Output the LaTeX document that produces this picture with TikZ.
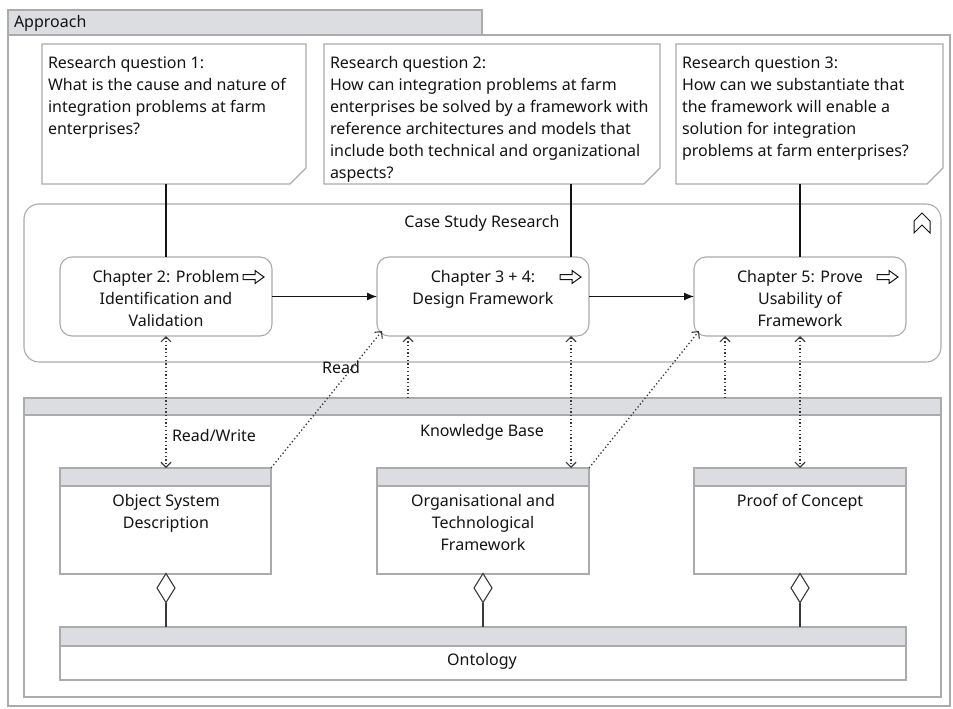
\documentclass[tikz,border=0pt]{standalone}
\usepackage{fontspec}
\setmainfont{Noto Sans}
\usetikzlibrary{arrows.meta,shapes.geometric}
\definecolor{edge}{HTML}{ABABAD}
\definecolor{band}{HTML}{DCDDE0}
\definecolor{ink}{HTML}{141414}
\definecolor{dots}{HTML}{3A3A3A}
\begin{document}
\begin{tikzpicture}[x=1pt,y=-1pt,
  every node/.style={inner sep=0pt,outer sep=0pt},
  lbl/.style={font=\fontsize{16}{22}\selectfont, text=ink},
  frame/.style={draw=edge,line width=1.1pt},
  plainbox/.style={frame,rectangle,fill=white},
  bandbox/.style={frame,rectangle,fill=band},
  roundbox/.style={frame,rectangle,rounded corners=12pt,fill=white},
  notebox/.style={rectangle},
  flow/.style={draw=ink,line width=1.2pt,-{Latex[length=10pt,width=8pt]}},
  link/.style={draw=ink,line width=1.2pt},
  access/.style={draw=dots,line width=1.3pt,dash pattern=on 1.3pt off 2.4pt,
    >={Straight Barb[length=5pt,width=10pt,line width=1.1pt]}},
  agg/.style={diamond,draw=dots,line width=1.1pt,fill=white,minimum width=18pt,minimum height=29pt},
  icon/.style={draw=ink,line width=1pt,line join=miter},
  blockarrow/.pic={\draw[icon] (-11,-2.5) -- (1,-2.5) -- (1,-6.5) -- (10,0) -- (1,6.5) -- (1,2.5) -- (-11,2.5) -- cycle;}
]
\useasboundingbox (0,0) rectangle (953,709);

% --- outer frame with its tab
\node[bandbox,minimum width=474pt,minimum height=25pt] (tab) at (245,22.5) {};
\node[lbl,anchor=base west] (tabtitle) at (14,28) {Approach};
\draw[frame] (tab.south west) -- (8,706) -- (950,706) -- (950,35) -- (tab.south east);

% --- research questions (notes with a folded corner)
\node[notebox,minimum width=264pt,minimum height=140pt] (rq1) at (174,114) {};
\node[notebox,minimum width=336pt,minimum height=140pt] (rq2) at (492,114) {};
\node[notebox,minimum width=267pt,minimum height=140pt] (rq3) at (809.5,114) {};
\foreach \n in {rq1,rq2,rq3}{
  \draw[frame,fill=white] (\n.north west) -- (\n.north east) -- ([yshift=16pt]\n.south east)
    -- ([xshift=-16pt]\n.south east) -- (\n.south west) -- cycle;
}
\node[lbl,anchor=north west,align=left] (rq1t) at (48,56)
  {Research question 1:\\What is the cause and nature of\\integration problems at farm\\enterprises?};
\node[lbl,anchor=north west,align=left] (rq2t) at (330,56)
  {Research question 2:\\How can integration problems at farm\\enterprises be solved by a framework with\\reference architectures and models that\\include both technical and organizational\\aspects?};
\node[lbl,anchor=north west,align=left] (rq3t) at (682,56)
  {Research question 3:\\How can we substantiate that\\the framework will enable a\\solution for integration\\problems at farm enterprises?};

% --- case study research container
\node[frame,rectangle,rounded corners=15pt,minimum width=917pt,minimum height=158pt] (case) at (482.5,283) {};
\node[lbl,anchor=base] (casetitle) at (482,227) {Case Study Research};
\draw[icon] (914,233) -- (914,221) -- (922,213) -- (930,221) -- (930,233) -- (922,225) -- cycle;

% --- chapters
\node[roundbox,minimum width=212pt,minimum height=79pt] (ch2) at (166,296.5) {};
\node[roundbox,minimum width=212pt,minimum height=79pt] (ch3) at (483,296.5) {};
\node[roundbox,minimum width=212pt,minimum height=79pt] (ch5) at (800,296.5) {};
\node[lbl,anchor=north,align=center] (ch2t) at (166,270) {Chapter 2: Problem\\Identification and\\Validation};
\node[lbl,anchor=north,align=center] (ch3t) at (483,270) {Chapter 3 + 4:\\Design Framework};
\node[lbl,anchor=north,align=center] (ch5t) at (800,270) {Chapter 5: Prove\\Usability of\\Framework};
\pic at (254,277) {blockarrow};
\pic at (571,277) {blockarrow};
\pic at (888,277) {blockarrow};

% --- links from questions to chapters, chapter flow
\coordinate (q2) at (571,0);
\draw[link] (ch2.north) -- (ch2.north |- rq1.south);
\draw[link] (ch3.north -| q2) -- (rq2.south -| q2);
\draw[link] (ch5.north) -- (ch5.north |- rq3.south);
\draw[flow] (ch2.east) -- (ch3.west);
\draw[flow] (ch3.east) -- (ch5.west);

% --- knowledge base
\node[plainbox,minimum width=917pt,minimum height=299pt] (kb) at (482.5,547.5) {};
\node[bandbox,minimum width=917pt,minimum height=17pt] (kbband) at (482.5,406.5) {};
\node[lbl,anchor=base] (kbtitle) at (482,436) {Knowledge Base};

\node[plainbox,minimum width=211pt,minimum height=106pt] (osd) at (165.5,521) {};
\node[plainbox,minimum width=212pt,minimum height=106pt] (otf) at (483,521) {};
\node[plainbox,minimum width=212pt,minimum height=106pt] (poc) at (800,521) {};
\foreach \n in {osd,otf,poc}{
  \draw[frame,fill=band] (\n.north west) rectangle ([yshift=-18pt]\n.north east);
}
\node[lbl,anchor=north,align=center] (osdt) at (166,494) {Object System\\Description};
\node[lbl,anchor=north,align=center] (otft) at (483,494) {Organisational and\\Technological\\Framework};
\node[lbl,anchor=north,align=center] (poct) at (800,494) {Proof of Concept};

\node[plainbox,minimum width=846pt,minimum height=53pt] (ont) at (483,653.5) {};
\draw[frame,fill=band] (ont.north west) rectangle ([yshift=-19pt]ont.north east);
\node[lbl,anchor=base] (onttitle) at (482,665) {Ontology};

% --- aggregation into the ontology
\node[agg] (d1) at (166,588) {};
\node[agg] (d2) at (483,588) {};
\node[agg] (d3) at (800,588) {};
\draw[link,draw=dots] (d1.south) -- (d1.south |- ont.north);
\draw[link,draw=dots] (d2.south) -- (d2.south |- ont.north);
\draw[link,draw=dots] (d3.south) -- (d3.south |- ont.north);

% --- access relations
\coordinate (k1) at (408,0);
\coordinate (k2) at (725,0);
\draw[access,<->] (ch2.south) -- (ch2.south |- osd.north);
\draw[access,->] (osd.north east) -- ([shift={(5pt,5pt)}]ch3.south west);
\draw[access,->] (kb.north -| k1) -- (ch3.south -| k1);
\draw[access,<->] (ch3.south -| q2) -- (otf.north -| q2);
\draw[access,->] (otf.north east) -- ([shift={(5pt,5pt)}]ch5.south west);
\draw[access,->] (kb.north -| k2) -- (ch5.south -| k2);
\draw[access,<->] (ch5.south) -- (ch5.south |- poc.north);
\node[lbl,anchor=base west] (rw) at (172,441) {Read/Write};
\node[lbl,anchor=base] (rd) at (341,373) {Read};
\end{tikzpicture}
\end{document}
